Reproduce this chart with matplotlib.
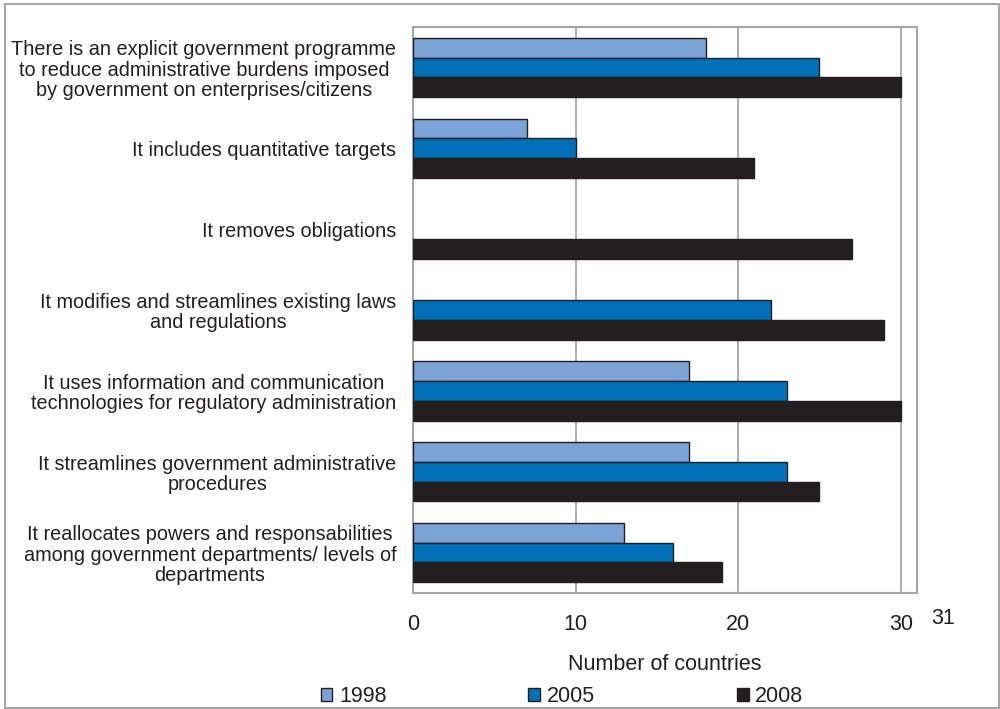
import numpy as np
import matplotlib.pyplot as plt
from matplotlib.patches import Rectangle

plt.rcParams['font.family'] = ['Liberation Sans', 'DejaVu Sans']

categorias = [
    "There is an explicit government programme\nto reduce administrative burdens imposed\nby government on enterprises/citizens",
    "It includes quantitative targets",
    "It removes obligations",
    "It modifies and streamlines existing laws\nand regulations",
    "It uses information and communication\ntechnologies for regulatory administration",
    "It streamlines government administrative\nprocedures",
    "It reallocates powers and responsabilities\namong government departments/ levels of\ndepartments",
]
anos = ["1998", "2005", "2008"]
v1998 = [18, 7, 0, 0, 17, 17, 13]
v2005 = [25, 10, 0, 22, 23, 23, 16]
v2008 = [30, 21, 27, 29, 30, 25, 19]

cores = ["#7ba3d6", "#0071b9", "#231f20"]
texto = "#231f20"
cinza = "#a6a6a6"

fig = plt.figure(figsize=(10, 7.09), dpi=100)
ax = fig.add_axes([0.413, 0.1636, 0.504, 0.7983])

y = np.arange(len(categorias))
h = 0.245
for i, (vals, cor) in enumerate(zip([v1998, v2005, v2008], cores)):
    barras = ax.barh(y + (i - 1) * h, vals, height=h, color=cor,
                     edgecolor=texto, linewidth=1.0, label=anos[i], zorder=3)
    # barras com valor zero ficam sem contorno
    for b, v in zip(barras, vals):
        if v == 0:
            b.set_edgecolor('none')

ax.set_xlim(0, 31)
ax.set_ylim(len(categorias) - 0.5, -0.5)
ax.set_xticks([0, 10, 20, 30])
ax.set_yticks(y)
ax.set_yticklabels(categorias, fontsize=14.3, color=texto)
for lab in ax.get_yticklabels():
    lab.set_multialignment('center')
    lab.set_linespacing(1.08)
ax.tick_params(axis='y', length=0, pad=12)
ax.tick_params(axis='x', length=0, pad=15, labelsize=15.5, labelcolor=texto)
ax.text(1.0 + 26 / 504, -0.045, "31", transform=ax.transAxes,
        fontsize=15.5, color=texto, ha='center', va='center')

ax.grid(axis='x', color=cinza, linewidth=1.3, zorder=0)
for s in ax.spines.values():
    s.set_color(cinza)
    s.set_linewidth(1.5)

ax.set_xlabel("Number of countries", fontsize=15.5, color=texto, labelpad=14)

fig.legend(loc='center', bbox_to_anchor=(0.562, 1 - 697 / 709), ncol=3,
           frameon=False, fontsize=15.5, handlelength=0.55, handleheight=0.55,
           handletextpad=0.3, columnspacing=6.6, labelcolor=texto)

# moldura externa
fig.patches.append(Rectangle((0.005, 0.001), 0.994, 0.993, transform=fig.transFigure,
                             fill=False, edgecolor=cinza, linewidth=1.5))

fig.savefig("out.png", dpi=100)
